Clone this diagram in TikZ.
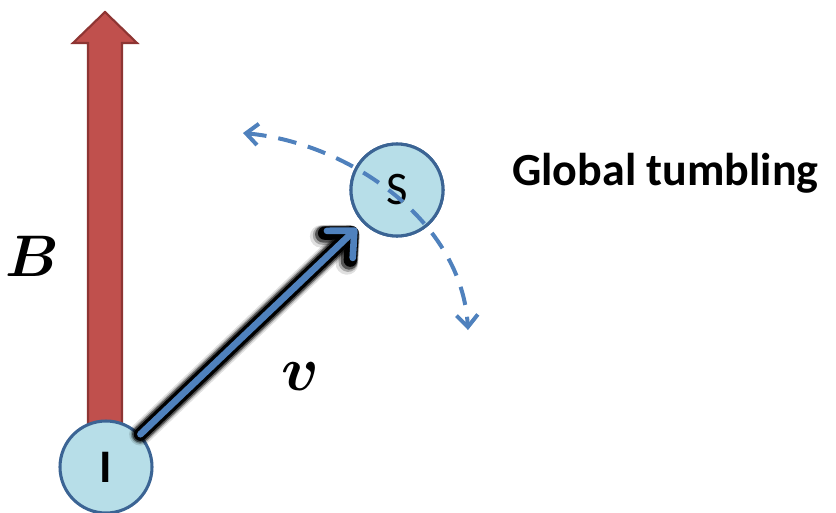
\documentclass[tikz,border=0pt]{standalone}
\usepackage{amsmath,amssymb}
\usepackage{graphicx}
\usepackage{fontspec}
\newfontfamily\carlito{Carlito}
\usetikzlibrary{arrows.meta}
\definecolor{redfill}{HTML}{C0504D}
\definecolor{redline}{HTML}{8E3533}
\definecolor{cfill}{HTML}{B7DEE8}
\definecolor{cline}{HTML}{3B6494}
\definecolor{blueline}{HTML}{4F81BD}
\tikzset{
  ball/.style={circle,draw=cline,fill=cfill,line width=2.3pt,minimum size=69pt,inner sep=0pt},
  tumble/.style={draw=blueline,line width=3pt,dash pattern=on 14pt off 9pt,
    {Straight Barb[length=9pt,width=16pt,line width=3pt]}-{Straight Barb[length=9pt,width=16pt,line width=3pt]}},
  glow/.style={black,line cap=round,line join=round,shorten >=6pt},
  lbl/.style={inner sep=0pt},
}
\begin{document}
\begin{tikzpicture}[x=0.75pt,y=-0.75pt]
\useasboundingbox (0,0) rectangle (836,512);
% red B arrow
\filldraw[fill=redfill,draw=redline,line width=1.6pt,line join=miter]
  (88,440) -- (88,43) -- (73,43) -- (105,12) -- (137,43) -- (122,43) -- (122,440) -- cycle;
\node[ball] (I) at (106,467) {\scalebox{3.5}{\carlito\bfseries I}};
\node[ball] (S) at (397,190) {\scalebox{3.5}{\carlito S}};
% v arrow with dark glow
\draw[glow,opacity=0.12,line width=17pt,
  -{Straight Barb[length=15pt,width=28pt,line width=17pt,round]}] (I) -- (S);
\draw[glow,opacity=0.25,line width=14.5pt,
  -{Straight Barb[length=15pt,width=28pt,line width=14.5pt,round]}] (I) -- (S);
\draw[glow,opacity=0.5,line width=12.5pt,
  -{Straight Barb[length=15pt,width=28pt,line width=12.5pt,round]}] (I) -- (S);
\draw[glow,line width=10pt,
  -{Straight Barb[length=15pt,width=28pt,line width=10pt,round]}] (I) -- (S);
\draw[blueline,line width=5pt,shorten >=6pt,line cap=round,
  -{Straight Barb[length=15pt,width=28pt,line width=5pt,round]}] (I) -- (S);
\node[ball] at (S) {\scalebox{3.5}{\carlito S}};
% tumbling path
\coordinate (t1) at (243,133);
\coordinate (t2) at (468,330);
\draw[tumble] (t1) .. controls (350,143) and (462,222) .. (t2);
% labels
\node[lbl] (B) at (32,256) {\scalebox{4.4}{$\boldsymbol{B}$}};
\node[lbl] (v) at (300,377) {\scalebox{4.7}{$\boldsymbol{v}$}};
\node[lbl,anchor=base west] (G) at (512,185) {\carlito\bfseries\fontsize{34.5}{38}\selectfont Global tumbling};
\end{tikzpicture}
\end{document}
